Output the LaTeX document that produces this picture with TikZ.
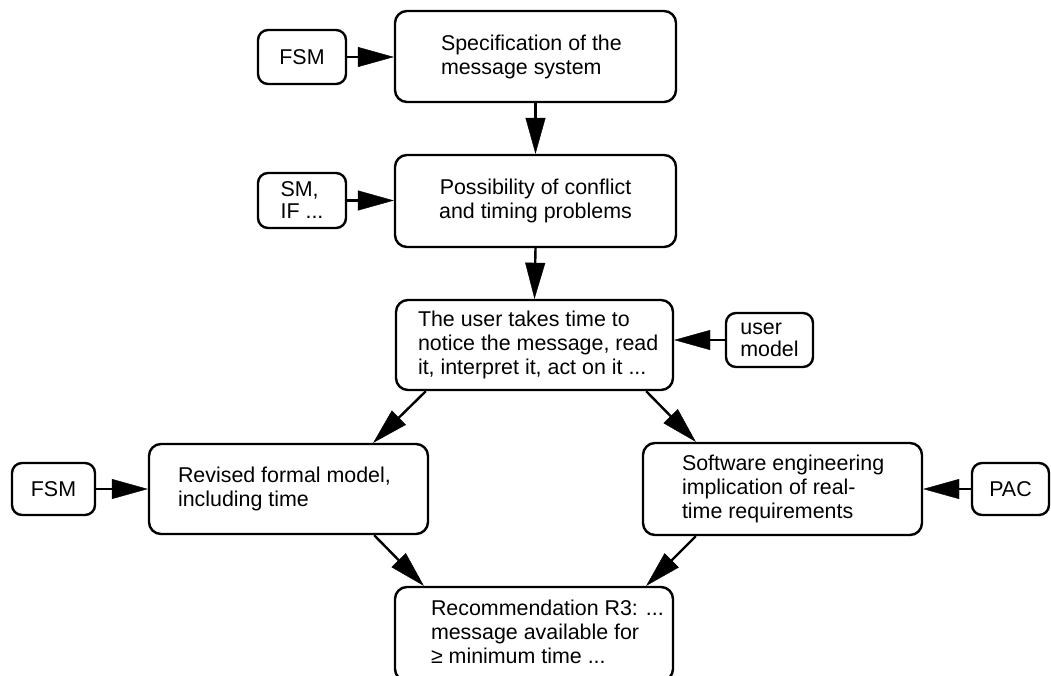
\documentclass[tikz,border=0pt]{standalone}
\usepackage{fontspec}
\setmainfont{Liberation Sans}
\usetikzlibrary{arrows.meta}

\tikzset{
  every node/.style={font=\fontsize{21.4}{24}\selectfont},
  bigbox/.style={draw, line width=2.4pt, rounded corners=12pt,
    minimum width=279pt, minimum height=91pt, inner sep=0pt},
  smallbox/.style={draw, line width=2.4pt, rounded corners=10pt,
    inner sep=0pt, align=left, font=\fontsize{21.4}{22}\selectfont},
  boxtext/.style={inner sep=0pt, align=left, anchor=west},
  flow/.style={line width=2.4pt,
    -{Triangle[length=36pt,width=20pt,line width=0.4pt]}},
}

\begin{document}
\begin{tikzpicture}[x=1pt, y=-1pt]
  \useasboundingbox (0,0) rectangle (1051,675);
  \fill[white] (0,0) rectangle (1051,675);

  % main chain of analysis steps
  \node[bigbox, minimum width=281pt] (spec) at (535.5,56.5) {};
  \node[boxtext] (spec-t) at ([xshift=47pt]spec.west)
    {Specification of the\\message system};

  \node[bigbox, minimum width=281pt, minimum height=92pt, align=center]
    (poss) at (535.5,201) {Possibility of conflict\\and timing problems};

  \node[bigbox, minimum width=277pt, minimum height=90pt] (user) at (534.5,345) {};
  \node[boxtext] (user-t) at ([xshift=23pt]user.west)
    {The user takes time to\\notice the message, read\\it, interpret it, act on it ...};

  \node[bigbox, minimum height=90pt] (revised) at (288.5,489) {};
  \node[boxtext] (revised-t) at ([xshift=30pt]revised.west)
    {Revised formal model,\\including time};

  \node[bigbox, minimum height=92pt] (software) at (782.5,489) {};
  \node[boxtext] (software-t) at ([xshift=40pt]software.west)
    {Software engineering\\implication of real-\\time requirements};

  % the last box runs off the lower edge
  \node[bigbox, minimum width=278pt, minimum height=94pt] (rec) at (534,634) {};
  \node[boxtext] (rec-t) at ([xshift=37pt, yshift=2pt]rec.west)
    {Recommendation R3: ...\\message available for\\≥ minimum time ...};

  % techniques feeding each step
  \node[smallbox, minimum width=88pt, minimum height=54pt, align=center]
    (fsmA) at (302,57) {FSM};
  \node[smallbox, minimum width=88pt, minimum height=55pt]
    (sm) at (302,200.5) {SM,\\IF ...};
  \node[smallbox, minimum width=87pt, minimum height=54pt]
    (umodel) at (769.5,340) {user\\model};
  \node[smallbox, minimum width=83pt, minimum height=52pt, align=center]
    (fsmB) at (53.5,489) {FSM};
  \node[smallbox, minimum width=77pt, minimum height=52pt, align=center]
    (pac) at (1010.5,489) {PAC};

  % connectors
  \draw[flow] (fsmA.east) -- (fsmA.east -| spec.west);
  \draw[flow] (spec.south) -- (poss.north);
  \draw[flow] (sm.east) -- (sm.east -| poss.west);
  \draw[flow] (poss.south) -- (user.north);
  \draw[flow] (umodel.west) -- (umodel.west -| user.east);
  \draw[flow] ([xshift=31pt]user.south west) -- ([xshift=-56pt]revised.north east);
  \draw[flow] ([xshift=-28pt]user.south east) -- ([xshift=54pt]software.north west);
  \draw[flow] (fsmB.east) -- (fsmB.east -| revised.west);
  \draw[flow] (pac.west) -- (pac.west -| software.east);
  \draw[flow] ([xshift=-55pt]revised.south east) -- ([xshift=30pt]rec.north west);
  \draw[flow] ([xshift=54pt]software.south west) -- ([xshift=-28pt]rec.north east);
\end{tikzpicture}
\end{document}
